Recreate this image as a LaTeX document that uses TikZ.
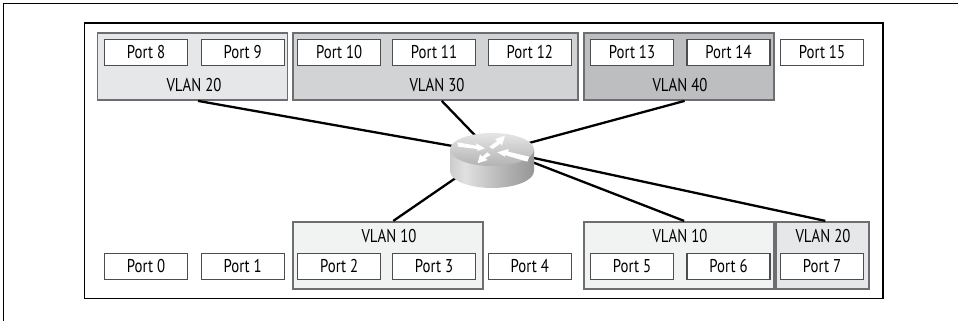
\documentclass[tikz,border=0pt]{standalone}
\usepackage{fontspec}
\setmainfont[FakeStretch=0.8]{PT Sans}
\definecolor{vlanborder}{HTML}{6D6E71}
\definecolor{portborder}{HTML}{4D4D4F}
\definecolor{vlanten}{HTML}{F1F2F2}
\definecolor{vlantwenty}{HTML}{E6E7E8}
\definecolor{vlanthirty}{HTML}{D1D3D4}
\definecolor{vlanforty}{HTML}{BCBEC0}
\pgfdeclarehorizontalshading{routerside}{100bp}{
  color(0bp)=(black!42); color(34bp)=(black!12); color(55bp)=(black!28); color(100bp)=(black!58)}
\tikzset{
  portbox/.style={draw=portborder,line width=1.3pt,fill=white,minimum width=83pt,minimum height=26pt,inner sep=0pt,font=\fontsize{18.5}{20}\selectfont},
  vlanbox/.style={draw=vlanborder,line width=1.8pt,inner sep=0pt},
  vlanlabel/.style={inner sep=0pt,font=\fontsize{18.5}{20}\selectfont},
  trunk/.style={black,line width=2.3pt}
}
\begin{document}
\begin{tikzpicture}[x=1pt,y=-1pt]
\useasboundingbox (0,0) rectangle (958,321);

%outer frames
\draw[black,line width=1.2pt] (3.5,321)--(3.5,3.5)--(958,3.5);
\draw[black,line width=1.2pt] (84.5,23)--(883,23)--(883,298.5)--(84.5,298.5)--cycle;

%vlan groups, top row
\node[vlanbox,fill=vlantwenty,minimum width=190pt,minimum height=67pt] (vlan20top) at (192.5,66.5) {};
\node[vlanbox,fill=vlanthirty,minimum width=285pt,minimum height=67pt] (vlan30) at (435.8,66.5) {};
\node[vlanbox,fill=vlanforty,minimum width=190pt,minimum height=67pt] (vlan40) at (678.6,66.5) {};
%vlan groups, bottom row
\node[vlanbox,fill=vlanten,minimum width=190pt,minimum height=67pt] (vlan10left) at (388.3,255.3) {};
\node[vlanbox,fill=vlanten,minimum width=190pt,minimum height=67pt] (vlan10right) at (678.6,255.3) {};
\node[vlanbox,fill=vlantwenty,minimum width=93pt,minimum height=67pt] (vlan20bottom) at (822.3,255.3) {};

\node[vlanlabel] (label20top) at (194,85.5) {VLAN 20};
\node[vlanlabel] (label30) at (437,85.5) {VLAN 30};
\node[vlanlabel] (label40) at (680,85.5) {VLAN 40};
\node[vlanlabel] (label10left) at (389,236.5) {VLAN 10};
\node[vlanlabel] (label10right) at (680,236.5) {VLAN 10};
\node[vlanlabel] (label20bottom) at (823,236.5) {VLAN 20};

%ports, top row
\node[portbox] (port8) at (146,52.3) {Port 8};
\node[portbox] (port9) at (242.7,52.3) {Port 9};
\node[portbox] (port10) at (339.2,52.3) {Port 10};
\node[portbox] (port11) at (434,52.3) {Port 11};
\node[portbox] (port12) at (529.8,52.3) {Port 12};
\node[portbox] (port13) at (632,52.3) {Port 13};
\node[portbox] (port14) at (728.5,52.3) {Port 14};
\node[portbox] (port15) at (822,52.3) {Port 15};
%ports, bottom row
\node[portbox] (port0) at (146,266.3) {Port 0};
\node[portbox] (port1) at (242.7,266.3) {Port 1};
\node[portbox] (port2) at (339.2,266.3) {Port 2};
\node[portbox] (port3) at (434,266.3) {Port 3};
\node[portbox] (port4) at (529.8,266.3) {Port 4};
\node[portbox] (port5) at (632,266.3) {Port 5};
\node[portbox] (port6) at (728.5,266.3) {Port 6};
\node[portbox] (port7) at (822,266.3) {Port 7};

%links, the router goes over their ends
\coordinate (router) at (492,153);
\coordinate (routerright) at (492,146.5);
\coordinate (routerfar) at (492,149);
\draw[trunk] ([xshift=5.5pt]vlan20top.south)--(router);
\draw[trunk] ([xshift=6pt]vlan30.south)--(router);
\draw[trunk] ([xshift=6pt]vlan40.south)--(router);
\draw[trunk] ([xshift=5pt]vlan10left.north)--(router);
\draw[trunk] ([xshift=5.5pt]vlan10right.north)--(routerright);
\draw[trunk] ([xshift=3pt]vlan20bottom.north)--(routerfar);

%router body
\shade[shading=routerside] (450,149) -- (450,171) arc[start angle=180,end angle=0,x radius=42,y radius=17] -- (534,149) -- cycle;
\shade[top color=black!10,bottom color=black!30] (492,149.5) ellipse[x radius=42,y radius=16.5];
%router arrows
\fill[white] (457.3,142.3)--(476.7,145.7)--(476,143.3)--(485,148.3)--(477.3,151)--(477.3,149)--(458.3,146.7)--cycle;
\fill[white] (529.3,156.7)--(508.3,151.7)--(508.3,149)--(497.3,152.3)--(505,156.7)--(505,155)--(527.3,161.7)--cycle;
\fill[white] (505,135.7)--(495,139)--(497.3,141)--(489.3,146.7)--(492.7,149)--(500.7,143.3)--(501.7,145.7)--cycle;
\fill[white] (477.7,163.3)--(487.7,160)--(485,158.3)--(490.7,155)--(487.3,152.3)--(482.3,156.7)--(480,154.3)--cycle;
\end{tikzpicture}
\end{document}
